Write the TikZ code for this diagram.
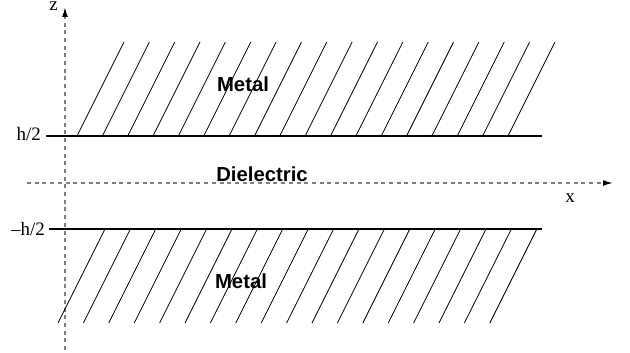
\documentclass[tikz,border=0pt]{standalone}
\usepackage{fontspec}
\setmainfont{Liberation Serif}
\newfontfamily\hvfont{Liberation Sans}
\usetikzlibrary{arrows.meta}
\tikzset{
  axisline/.style={draw=gray, line width=1.5pt, dash pattern=on 4pt off 3.7pt,
    -{Latex[black,length=10pt,width=6pt]}},
  plateline/.style={line width=1.3pt},
  hatchline/.style={line width=0.8pt},
  metallabel/.style={font=\hvfont\bfseries\fontsize{20.3}{24}\selectfont, inner sep=0pt, anchor=base},
  axislabel/.style={font=\fontsize{19}{22}\selectfont, inner sep=0pt},
}
\begin{document}
\begin{tikzpicture}[x=1pt,y=-1pt]
\useasboundingbox (0,0) rectangle (630,353);
% axes
\coordinate (zb) at (65,350);
\coordinate (zt) at (65,7);
\coordinate (xl) at (27,183);
\coordinate (xr) at (613,183);
\draw[axisline] (zb) -- (zt);
\draw[axisline] (xl) -- (xr);
% plates
\coordinate (tl) at (46,136);
\coordinate (tr) at (542,136);
\coordinate (bl) at (49,229);
\coordinate (br) at (542,229);
\draw[plateline] (tl) -- (tr);
\draw[plateline] (bl) -- (br);
% hatching
\foreach \i in {0,...,17}{
  \draw[hatchline] ({77+25.35*\i},136) -- ({124+25.35*\i},42);
  \draw[hatchline] ({58+25.4*\i},323) -- ({105+25.4*\i},229);
}
% labels
\node[metallabel] (m1) at (243,91.7) {Metal};
\node[metallabel] (m2) at (241,288) {Metal};
\node[metallabel] (d) at (262,181) {Dielectric};
\node[axislabel, anchor=base east] (hp) at (41,141) {h/2};
\node[axislabel, anchor=base east] (hm) at (45,235) {–h/2};
\node[axislabel, anchor=base] (zl) at (53.7,11) {z};
\node[axislabel, anchor=base] (xlab) at (570,202) {x};
\end{tikzpicture}
\end{document}
